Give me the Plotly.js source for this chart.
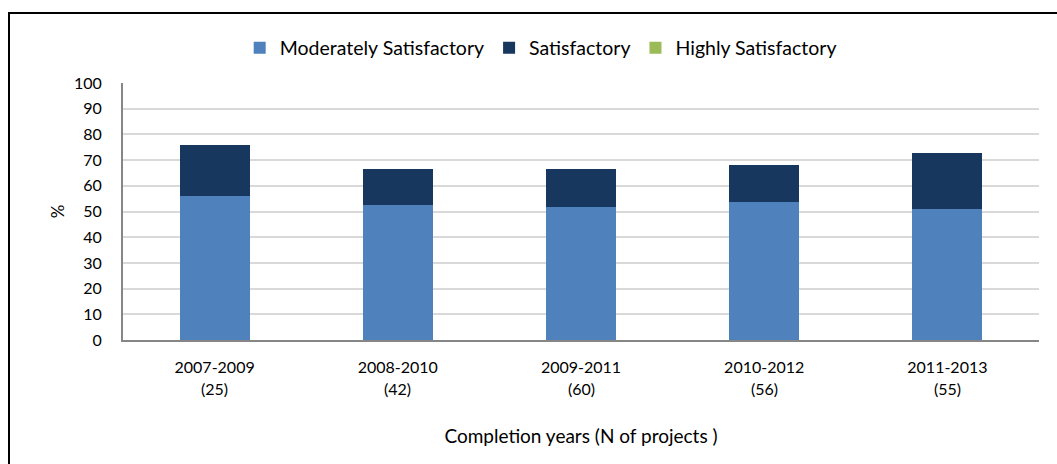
<!DOCTYPE html>
<html>
<head>
<meta charset="utf-8">
<script src="https://cdn.plot.ly/plotly-3.0.1.min.js"></script>
<style>
  html, body { margin: 0; padding: 0; background: #fff; overflow: hidden; }
  #frame { position: absolute; left: 8px; top: 12px; width: 1100px; height: 500px; border: 2px solid #000; box-sizing: border-box; pointer-events: none; z-index: 5; }
  #chart { position: absolute; left: 0; top: 0; width: 1057px; height: 464px; }
</style>
</head>
<body>
<div id="chart"></div>
<div id="frame"></div>
<script>
const categories = ["2007-2009", "2008-2010", "2009-2011", "2010-2012", "2011-2013"];
const projectCounts = [25, 42, 60, 56, 55];
const moderatelySatisfactory = [56.0, 52.4, 51.7, 53.6, 51.0];
const satisfactory = [20.0, 14.3, 15.0, 14.4, 21.8];
const highlySatisfactory = [0, 0, 0, 0, 0];

const font = "Lato, 'Open Sans', sans-serif";

const traces = [
  { type: "bar", name: "Moderately Satisfactory", x: categories, y: moderatelySatisfactory,
    marker: { color: "#4f81bd", line: { width: 0 } } },
  { type: "bar", name: "Satisfactory", x: categories, y: satisfactory,
    marker: { color: "#17375e", line: { width: 0 } } },
  { type: "bar", name: "Highly Satisfactory", x: categories, y: highlySatisfactory,
    marker: { color: "#9bbb59", line: { width: 0 } } }
];

const annotations = categories.map((c, i) => ({
  x: c, xref: "x", y: -0.187, yref: "paper", yanchor: "middle",
  text: "(" + projectCounts[i] + ")", showarrow: false,
  font: { family: font, size: 16, color: "#000" }
}));

const layout = {
  width: 1057, height: 464,
  margin: { l: 123, r: 18, t: 83, b: 124 },
  paper_bgcolor: "#fff", plot_bgcolor: "#fff",
  barmode: "stack", bargap: 0.617,
  font: { family: font, size: 16, color: "#000" },
  showlegend: true,
  legend: { orientation: "h", x: 0.456, xanchor: "center", y: 1.136, yanchor: "middle",
    font: { family: font, size: 19.5, color: "#000" }, traceorder: "normal", itemwidth: 30 },
  xaxis: {
    type: "category", showgrid: false, zeroline: false,
    showline: true, linecolor: "#868686", linewidth: 2,
    ticks: "", ticklabelstandoff: 12,
    tickfont: { family: font, size: 16, color: "#000" },
    title: { text: "Completion years (N of projects )", font: { family: font, size: 19, color: "#000" }, standoff: 54 },
    automargin: false
  },
  yaxis: {
    range: [0, 100], dtick: 10, showgrid: true, gridcolor: "#d9d9d9", gridwidth: 2,
    zeroline: false, showline: true, linecolor: "#868686", linewidth: 2,
    ticks: "", ticklabelstandoff: 16,
    tickfont: { family: font, size: 16, color: "#000" },
    title: { text: "%", font: { family: font, size: 17, color: "#000" }, standoff: 5 },
    automargin: false
  },
  annotations: annotations
};

Plotly.newPlot("chart", traces, layout, { displayModeBar: false, staticPlot: true });
</script>
</body>
</html>
